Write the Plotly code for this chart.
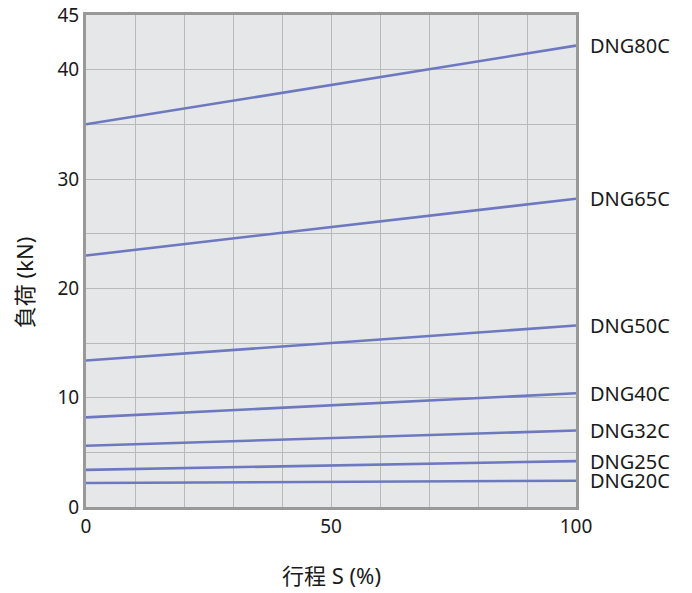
import plotly.graph_objects as go

stroke_pct = [0, 100]
models = ["DNG80C", "DNG65C", "DNG50C", "DNG40C", "DNG32C", "DNG25C", "DNG20C"]
load_at_0 = [35.0, 23.0, 13.4, 8.2, 5.6, 3.4, 2.2]
load_at_100 = [42.2, 28.2, 16.6, 10.4, 7.0, 4.2, 2.4]

y_ticks = [0, 5, 10, 15, 20, 25, 30, 35, 40, 45]
y_ticktext = ["0", "", "10", "", "20", "", "30", "", "40", "45"]
x_ticks = [0, 10, 20, 30, 40, 50, 60, 70, 80, 90, 100]
x_ticktext = ["0", "", "", "", "", "50", "", "", "", "", "100"]

LINE = "#6d78c1"
TXT = "#1a1a1a"
FONT = "Noto Sans, Noto Sans CJK JP, sans-serif"

fig = go.Figure()
for m, a, b in zip(models, load_at_0, load_at_100):
    fig.add_trace(go.Scatter(x=stroke_pct, y=[a, b], mode="lines", name=m,
                             line=dict(color=LINE, width=2.6), showlegend=False))
    fig.add_annotation(x=stroke_pct[-1], y=b, xref="x", yref="y", text=m,
                       showarrow=False, xanchor="left", yanchor="middle",
                       xshift=12, font=dict(size=20, color=TXT, family=FONT))

fig.add_annotation(x=0, y=0.455, xref="paper", yref="paper", text="負荷 (kN)",
                   textangle=-90, showarrow=False, xanchor="center", yanchor="middle",
                   xshift=-62, font=dict(size=22, color=TXT, family=FONT))
fig.add_annotation(x=0.5, y=0, xref="paper", yref="paper", text="行程 S (%)",
                   showarrow=False, xanchor="center", yanchor="middle",
                   yshift=-68, font=dict(size=22, color=TXT, family=FONT))

fig.update_layout(
    width=692, height=593,
    margin=dict(l=86, r=116, t=15, b=86),
    paper_bgcolor="white", plot_bgcolor="#e6e7e9",
    font=dict(family=FONT, size=19, color=TXT),
)
fig.update_xaxes(range=[0, 100], tickvals=x_ticks, ticktext=x_ticktext,
                 showgrid=True, gridcolor="#b9b9bb", gridwidth=1.3,
                 showline=True, linecolor="#999999", linewidth=3, mirror=True,
                 ticks="", zeroline=False, ticklabelstandoff=0, automargin=False)
fig.update_yaxes(range=[0, 45], tickvals=y_ticks, ticktext=y_ticktext,
                 showgrid=True, gridcolor="#b9b9bb", gridwidth=1.3,
                 showline=True, linecolor="#999999", linewidth=3, mirror=True,
                 ticks="", zeroline=False, ticklabelstandoff=0, automargin=False)

fig.write_html("out.html", config={"displayModeBar": False},
               post_script="document.body.style.margin='0';")
